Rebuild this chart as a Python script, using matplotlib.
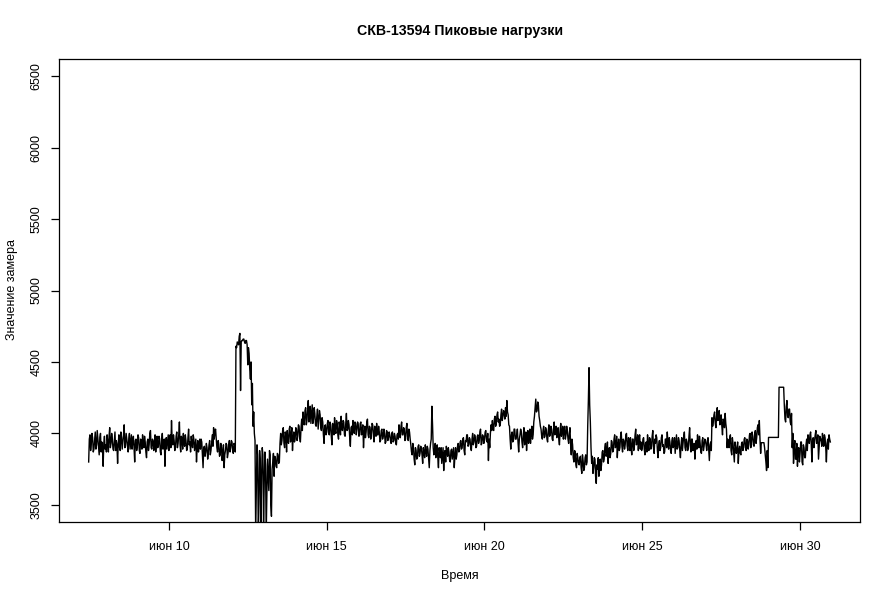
import matplotlib
matplotlib.use("Agg")
import matplotlib.pyplot as plt
import matplotlib.dates as mdates
import pandas as pd

plt.rcParams['font.family'] = ['Liberation Sans', 'DejaVu Sans']

title = "СКВ-13594 Пиковые нагрузки"
xlabel = "Время"
ylabel = "Значение замера"
start_time = "2019-06-07 11:00"

# half-hourly readings, one list per day
june07 = [3800,3960,3990,3880,3930,4000,3970,3870,3890,3950,4010,3890,3920,4020,3960,3900,3850,3970,4000,3870,3940,3900,3770,3930,3980,3890]
june08 = [3920,3870,3990,3940,3870,3980,4040,3900,3930,4000,3960,3890,3880,3950,4010,3880,3950,3920,3790,3930,3990,3900,3880,4010,3970,3890,3940,3990,4060,3900,3910,4000,3960,3920,3870,3960,4000,3890,3940,3990,3890,3940,3980,3900,3800,3950,3960,3880]
june09 = [3910,3990,3970,3880,3860,3960,3950,3890,3990,3920,3900,3980,3940,3870,3830,3940,3960,3880,3920,4000,4020,3900,3890,3960,3950,3880,3930,3990,3870,3940,3980,3900,3910,3980,3960,3870,3850,3950,4000,3890,3930,3960,3770,3920,3970,3890,3940,3990]
june10 = [3880,3950,3990,3900,4090,3940,3920,3990,3950,3880,3900,3980,4010,3900,3930,3990,4080,3920,3870,3980,3960,3890,4000,3930,3910,3990,3950,3880,3890,3970,4030,3920,3940,3870,3980,3930,3900,3990,3960,3880,3920,3960,3800,3900,3950,3870,3910,3960]
june11 = [3890,3960,3940,3850,3760,3900,3910,3840,3870,3930,3900,3820,3860,3920,3950,3850,3880,3940,3990,3910,4040,3960,4010,4030,3960,3900,3870,3950,3920,3840,3850,3930,3900,3810,3860,3920,3760,3850,3880,3930,3920,3830,3860,3920,3950,3870,3900,3950]
june12 = [3940,3880,3860,3930,3920,3870,4610,4600,4640,4630,4620,4680,4700,4300,4640,4650,4650,4660,4660,4640,4630,4650,4650,4620,4480,4600,4560,4450,4380,4500,4200,4350,4050,4150,4000,3950,3300,3600,3920,3850,3300,3500,3880,3800,3320,3700,3900,3850]
june13 = [3350,3650,3870,3780,3300,3550,3820,3700,3600,3880,3850,3500,3420,3750,3800,3860,3700,3840,3830,3770,3760,3860,3850,3790,3800,3930,4000,3920,3950,4020,4040,3930,3900,4010,3990,3870,4020,3950,3930,4030,4050,3940,3980,4040,3880,3970,4010,3940]
june14 = [3960,4040,4030,3950,3980,4060,4050,3970,3940,4040,4100,4020,4150,4080,4060,4160,4180,4060,4090,4170,4230,4080,4120,4190,4070,4130,4200,4070,4100,4180,4140,4060,4050,4120,4170,4030,4090,4160,4130,4040,4020,4110,4080,3990,3930,4050,4060,3990]
june15 = [4010,4070,4090,4000,3990,4080,4060,3980,3920,4070,4040,3990,4110,4020,4000,4090,4070,3990,3960,4080,4050,3990,4120,4030,4020,4090,4080,3990,3980,4070,4140,4020,4030,4090,4060,3970,3910,4040,4050,3990,4090,4020,4000,4080,4070,3990,4030,4080]
june16 = [4060,3980,3990,4070,4080,3990,4020,4060,3900,4000,4050,3970,4010,4080,4100,3990,3970,4050,4040,3960,4000,4070,4060,3990,3940,4050,4030,3980,4070,3990,3990,4050,4010,3940,3950,4020,4030,3960,3980,4030,4000,3930,3940,4020,4010,3950,3970,4010]
june17 = [3990,3950,3930,4000,4010,3940,3950,4000,3980,3930,3920,3990,4000,3960,4060,3980,3970,4050,4080,3990,3990,4040,4030,3950,3960,4040,4070,3980,3950,4030,4010,3960,3920,3870,3850,3930,3900,3820,3780,3900,3880,3820,3830,3910,3920,3840,3860,3910]
june18 = [3900,3850,3790,3900,3870,3830,3920,3870,3840,3910,3890,3820,3760,3880,3930,3960,4190,4060,3900,3850,3880,3930,3830,3870,3920,3830,3760,3900,3870,3830,3900,3790,3850,3900,3740,3860,3880,3800,3910,3860,3840,3900,3870,3810,3800,3880,3890,3820]
june19 = [3860,3900,3760,3840,3900,3820,3850,3910,3930,3870,3880,3940,3950,3890,3900,3960,3970,3880,3850,3950,3940,3990,3990,3910,3920,3970,3960,3900,3880,3960,4000,3920,3940,3990,3970,3900,3910,3980,3990,3930,3950,4010,4030,3920,3930,3990,3980,3930]
june20 = [3960,4010,4020,3950,3940,4000,3810,3960,3900,4000,4060,4020,4090,4030,4020,4100,4120,4050,4070,4130,4150,4080,4100,4050,4060,4130,4170,4090,4120,4160,4140,4100,4180,4120,4230,4150,4130,4060,4050,3960,3890,3990,4010,3940,3950,4030,4030,3960]
june21 = [3960,3990,4030,3940,3870,3960,3990,4030,4010,3940,3900,3980,4040,3920,3960,4010,3880,3970,4020,3930,3970,4030,3930,4000,4050,3960,3990,4080,4120,4180,4240,4150,4160,4220,4200,4120,4090,4050,4030,3980,3960,4020,4050,3970,3980,4040,4020,3960]
june22 = [3940,4020,4060,3980,3990,4050,4030,3960,3950,4030,4080,3990,4000,4050,3970,4020,4040,3960,3920,4020,4070,3980,4010,4050,3960,4020,4050,3960,3990,4050,4020,3960,3930,4000,4040,3920,3850,3960,3920,3830,3800,3880,3870,3780,3760,3860,3830,3790]
june23 = [3780,3830,3840,3760,3720,3850,3810,3740,3760,3830,3850,3780,3800,4050,4230,4460,4200,4080,3900,3790,3840,3720,3760,3830,3820,3700,3650,3780,3750,3830,3700,3800,3820,3740,3780,3870,3880,3800,3820,3900,3930,3840,3860,3940,3790,3880,3900,3830]
june24 = [3860,3950,3940,3870,3880,3960,3990,3900,3910,3980,3830,3920,3960,3880,3900,3980,4010,3910,3870,3960,3950,3890,3920,3990,4000,3910,3880,3970,3940,3880,3970,3900,3850,3960,3960,3880,3910,3990,4030,3920,3930,3990,3880,3960,3990,3890,3940,3880]
june25 = [3900,3960,3970,3890,3850,3930,3940,3870,3990,3920,3880,3970,3960,3890,3910,3980,4020,3900,3860,3960,3930,3990,3970,3880,3830,3920,3950,3880,3900,3970,3990,3910,3920,3860,3870,3960,3960,3900,4010,3930,3890,3970,3940,3880,3860,3950,3970,3900]
june26 = [3920,3970,3860,3930,3990,3890,3900,3970,3950,3880,3830,3920,3970,3880,3930,3980,4010,3900,3880,3960,3940,3880,3900,3980,4040,3920,3870,3960,3960,3880,3910,3930,3820,3900,3950,3890,3990,3930,3900,3980,3930,3870,3860,3950,3970,3880,3910,3960]
june27 = [3950,3920,3880,3950,3970,3890,3810,3920,3940,3880,4110,4050,4080,4130,4150,4070,4040,4120,4180,4090,4100,4160,4060,4120,4130,4050,3990,4100,4090,4040,4140,4070,4030,3900,3960,3920,3900,3970,3990,3880,3850,3970,3930,3870,3800,3940,3910,3860]
june28 = [3880,3940,3790,3880,3910,3860,3850,3930,3940,3880,3900,3960,3970,3900,3880,3960,3950,3890,3920,3990,4000,3900,3940,4010,3980,3920,3910,4000,4020,3930,3970,4040,4060,3990,4090,3960,3860,3935,3935,3935,3935,3935,3900,3850,3800,3740,3880,3760]
june29 = [3972,3972,3972,3972,3972,3972,3972,3972,3972,3972,3972,3972,3972,3972,3972,3972,4323,4323,4323,4323,4323,4323,4323,4323,4200,4100,4080,4190,4230,4120,4110,4170,4170,4080,4060,4140,3900,4000,3790,3900,3950,3820,3820,3930,3770,3890,3900,3800]
june30 = [3860,3940,3940,3800,3780,3920,3900,3830,3830,3920,3960,3880,3990,3950,3930,3990,4010,3920,3800,3960,3970,3900,3950,3990,4020,3930,3940,3990,3820,3900,3980,3950,3960,3910,4000,3960,3910,3990,3970,3900,3800,3930,3960,3890,3990,3960,3940]

ylim_base = (3500, 6500)
yticks = [3500, 4000, 4500, 5000, 5500, 6000, 6500]
xtick_dates = ["2019-06-10", "2019-06-15", "2019-06-20", "2019-06-25", "2019-06-30"]
xtick_labels = ["июн 10", "июн 15", "июн 20", "июн 25", "июн 30"]

days = [june07, june08, june09, june10, june11, june12, june13, june14, june15,
        june16, june17, june18, june19, june20, june21, june22, june23, june24,
        june25, june26, june27, june28, june29, june30]
values = [v for d in days for v in d]
times = pd.date_range(start_time, periods=len(values), freq="30min")

W, H = 892, 596
fig = plt.figure(figsize=(W / 100, H / 100), dpi=100)
ax = fig.add_axes([59 / W, (H - 522) / H, (860 - 59) / W, (522 - 59) / H])

tnum = mdates.date2num(times.to_pydatetime())
ax.plot(tnum, values, color="black", linewidth=1.0)

pad = 0.04 * (tnum[-1] - tnum[0])
ax.set_xlim(tnum[0] - pad, tnum[-1] + pad)
ypad = 0.04 * (ylim_base[1] - ylim_base[0])
ax.set_ylim(ylim_base[0] - ypad, ylim_base[1] + ypad)

ax.set_xticks(mdates.date2num(pd.to_datetime(xtick_dates).to_pydatetime()))
ax.set_xticklabels(xtick_labels)
ax.set_yticks(yticks)
ax.set_yticklabels([str(v) for v in yticks], rotation=90, va="center")

ax.tick_params(axis="both", direction="out", length=6, width=0.9, labelsize=9, pad=8)
ax.tick_params(axis="y", pad=6)
for s in ax.spines.values():
    s.set_linewidth(0.9)

fig.text(460 / W, 1 - 31 / H, title, ha="center", va="center", fontsize=10.2, fontweight="bold")
fig.text(460 / W, 1 - 576 / H, xlabel, ha="center", va="center", fontsize=9)
fig.text(12 / W, 1 - 290 / H, ylabel, ha="center", va="center", fontsize=9, rotation=90)

fig.savefig("out.png", dpi=100)
